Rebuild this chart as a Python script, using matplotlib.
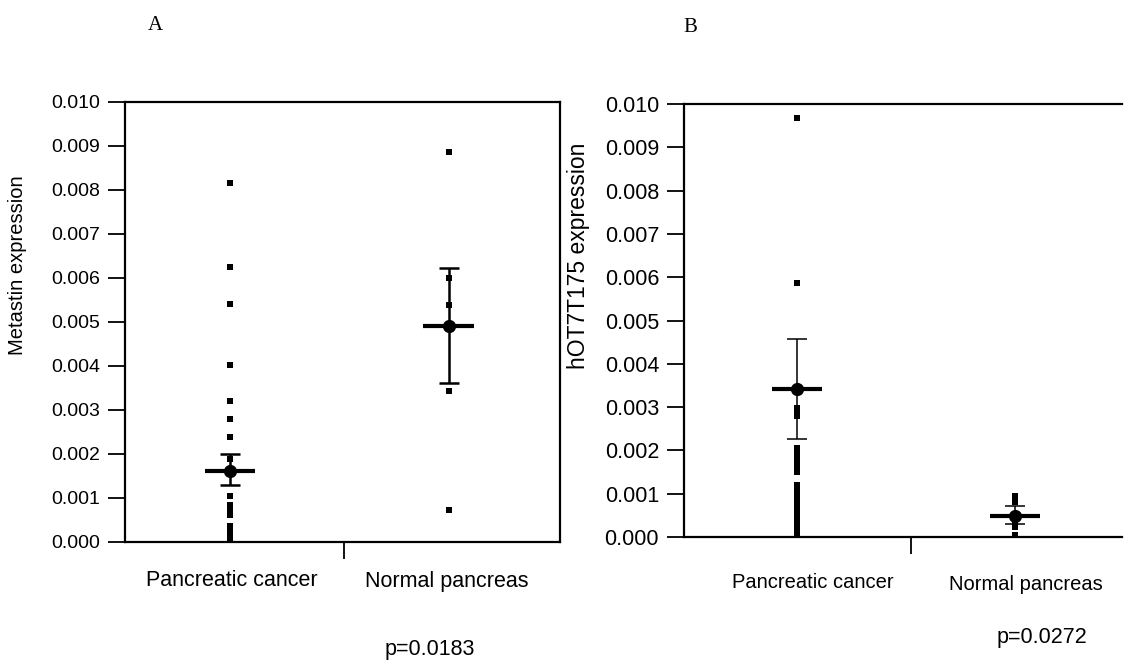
import matplotlib
matplotlib.use('Agg')
import matplotlib.pyplot as plt

plt.rcParams['font.family'] = ['Liberation Sans', 'DejaVu Sans']

groups = ['Pancreatic cancer', 'Normal pancreas']

# panel A: metastin expression (individual samples, x0.001)
a_cancer = [8.15, 6.24, 5.41, 4.02, 3.21, 2.80, 2.39, 1.88,
            1.04, 0.84, 0.80, 0.76, 0.72, 0.68, 0.64, 0.61,
            0.36, 0.32, 0.28, 0.24, 0.20, 0.16, 0.12, 0.08, 0.04, 0.0]
a_normal = [8.86, 6.00, 5.39, 3.42, 0.72]
a_mean = [1.62, 4.90]
a_low = [1.29, 3.61]
a_high = [2.00, 6.23]

# panel B: hOT7T175 expression (x0.001)
b_cancer = [9.68, 5.86, 2.98, 2.92, 2.86, 2.79,
            2.06, 1.98, 1.90, 1.82, 1.74, 1.66, 1.58, 1.50,
            1.21, 1.13, 1.05, 0.97, 0.89, 0.81, 0.73, 0.67,
            0.55, 0.47, 0.39, 0.31, 0.23, 0.15, 0.07, 0.0]
b_normal = [0.95, 0.90, 0.85, 0.80, 0.28, 0.24, 0.05, 0.0]
b_mean = [3.41, 0.48]
b_low = [2.27, 0.30]
b_high = [4.58, 0.71]

yticks = [i * 0.001 for i in range(11)]


def panel(ax, cancer, normal, mean, low, high, tick_fs, lw_err, cap, midtick):
    ax.plot([1] * len(cancer), [v * 0.001 for v in cancer], 's', color='black', ms=4, mew=0)
    ax.plot([2] * len(normal), [v * 0.001 for v in normal], 's', color='black', ms=4, mew=0)
    m = [v * 0.001 for v in mean]
    err = [[(mean[i] - low[i]) * 0.001 for i in range(2)],
           [(high[i] - mean[i]) * 0.001 for i in range(2)]]
    ax.errorbar([1, 2], m, yerr=err, fmt='o', color='black', ms=8.5,
                elinewidth=lw_err, capsize=cap, capthick=lw_err)
    ax.hlines(m, [0.885, 1.885], [1.115, 2.115], color='black', lw=3)
    ax.set_ylim(0, 0.010)
    ax.set_yticks(yticks)
    ax.set_yticklabels(['%.3f' % t for t in yticks], fontsize=tick_fs)
    ax.set_xticks([midtick])
    ax.set_xticklabels([''])
    ax.tick_params(direction='out', length=12, width=1.3, pad=6)
    for s in ax.spines.values():
        s.set_linewidth(1.6)


fig = plt.figure(figsize=(11.25, 6.62), dpi=100)

ax1 = fig.add_axes([0.1111, 0.1813, 0.3867, 0.6647])
panel(ax1, a_cancer, a_normal, a_mean, a_low, a_high, 14, 1.8, 7, 1.52)
ax1.set_xlim(0.52, 2.51)

ax2 = fig.add_axes([0.608, 0.1888, 0.3893, 0.6541])
panel(ax2, b_cancer, b_normal, b_mean, b_low, b_high, 15.5, 1.1, 7, 1.52)
ax2.set_xlim(0.48, 2.49)
ax2.spines['right'].set_visible(False)

fig.text(18 / 1125, 1 - 265 / 662, 'Metastin expression', rotation=90,
         ha='center', va='center', fontsize=14.5)
fig.text(578 / 1125, 1 - 256 / 662, 'hOT7T175 expression', rotation=90,
         ha='center', va='center', fontsize=16.5)

fig.text(232 / 1125, 1 - 581 / 662, groups[0], ha='center', va='center', fontsize=15.5)
fig.text(447 / 1125, 1 - 581 / 662, groups[1], ha='center', va='center', fontsize=15.5)
fig.text(813 / 1125, 1 - 583 / 662, groups[0], ha='center', va='center', fontsize=14.5)
fig.text(1026 / 1125, 1 - 585 / 662, groups[1], ha='center', va='center', fontsize=14.5)

fig.text(430 / 1125, 1 - 650 / 662, 'p=0.0183', ha='center', va='center', fontsize=15.5)
fig.text(1042 / 1125, 1 - 637 / 662, 'p=0.0272', ha='center', va='center', fontsize=15.5)

fig.text(155 / 1125, 1 - 25 / 662, 'A', ha='center', va='center', fontsize=15,
         family='Liberation Serif')
fig.text(690 / 1125, 1 - 28 / 662, 'B', ha='center', va='center', fontsize=15,
         family='Liberation Serif')

fig.savefig('out.png', dpi=100)
